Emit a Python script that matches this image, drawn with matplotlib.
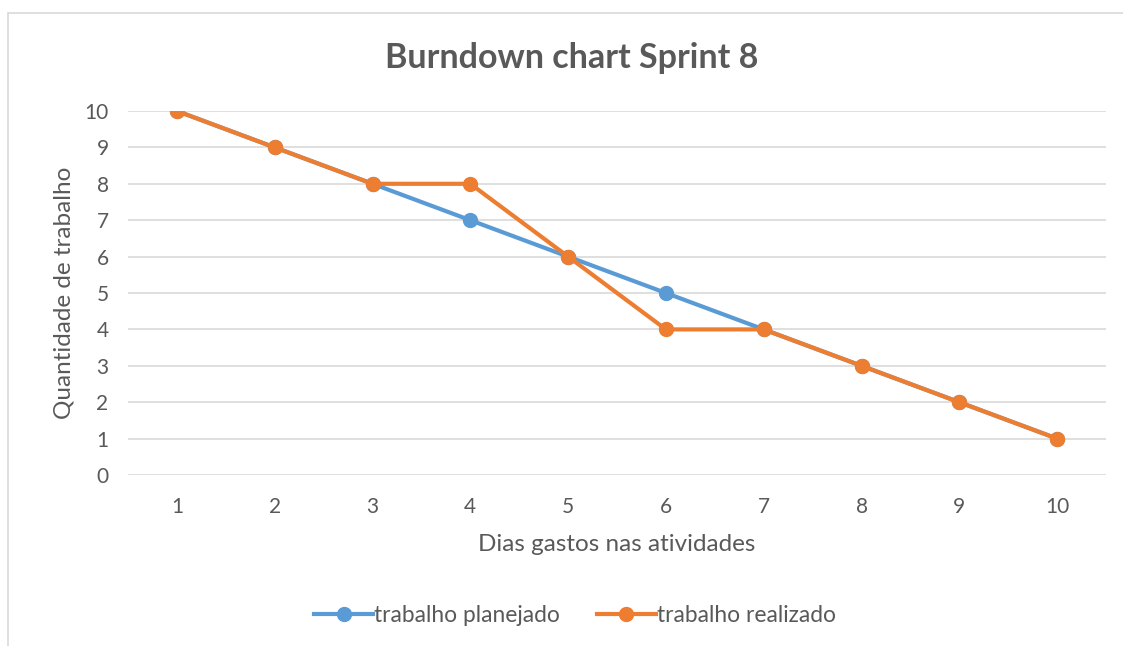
import matplotlib.pyplot as plt
from matplotlib.patches import Rectangle

# dados do burndown
dias = [1, 2, 3, 4, 5, 6, 7, 8, 9, 10]
planejado = [10, 9, 8, 7, 6, 5, 4, 3, 2, 1]
realizado = [10, 9, 8, 8, 6, 4, 4, 3, 2, 1]
yticks = list(range(0, 11))

plt.rcParams['font.family'] = ['Lato', 'DejaVu Sans']
cor_texto = '#595959'
cor_grade = '#D9D9D9'

fig = plt.figure(figsize=(11.23, 6.46), dpi=100)
ax = fig.add_axes([128 / 1123, 1 - 475 / 646, (1106 - 128) / 1123, (475 - 111) / 646])

# moldura do grafico (estilo Excel)
fig.patches.append(Rectangle((8 / 1123, -0.05), 1.2, 1 - 13 / 646 + 0.05,
                             transform=fig.transFigure, fill=False,
                             edgecolor=cor_grade, linewidth=1.2))

ax.plot(dias, planejado, color='#5B9BD5', linewidth=3, marker='o',
        markersize=10, label='trabalho planejado', zorder=3)
ax.plot(dias, realizado, color='#ED7D31', linewidth=3, marker='o',
        markersize=10, label='trabalho realizado', zorder=4)

ax.set_xlim(0.5, 10.5)
ax.set_ylim(0, 10)
ax.set_xticks(dias)
ax.set_yticks(yticks)
ax.grid(axis='y', color=cor_grade, linewidth=1.2)
ax.set_axisbelow(True)
for s in ['top', 'right', 'left', 'bottom']:
    ax.spines[s].set_visible(False)
ax.tick_params(length=0, labelsize=15, colors=cor_texto)
ax.tick_params(axis='x', pad=16)
ax.tick_params(axis='y', pad=14)

ax.set_xlabel('Dias gastos nas atividades', fontsize=17.5, color=cor_texto, labelpad=12)
ax.set_ylabel('Quantidade de trabalho', fontsize=17.5, color=cor_texto, labelpad=7)
fig.text(572 / 1123, 1 - 58 / 646, 'Burndown chart Sprint 8', ha='center', va='center',
         fontsize=24.5, fontweight='bold', color=cor_texto)

ax.legend(loc='center', bbox_to_anchor=(575 / 1123, 1 - 615 / 646),
          bbox_transform=fig.transFigure, ncol=2, frameon=False,
          fontsize=16.4, labelcolor=cor_texto, handlelength=2.6,
          handletextpad=0.05, columnspacing=1.6)

plt.savefig('out.png', dpi=100)
